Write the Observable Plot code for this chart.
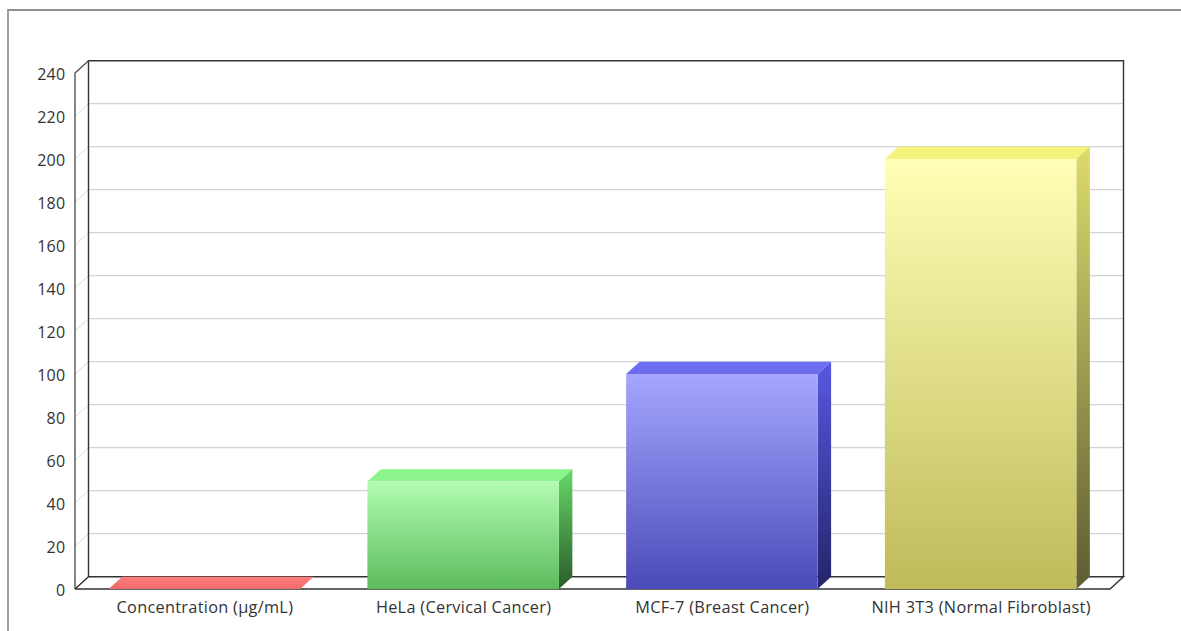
<!DOCTYPE html>
<html><head><meta charset="utf-8">
<script src="https://cdn.jsdelivr.net/npm/d3@7"></script>
<script src="https://cdn.jsdelivr.net/npm/@observablehq/plot@0.6"></script>
<style>
html,body{margin:0;padding:0;background:#fff;overflow:hidden}
#box{position:absolute;left:7px;top:9px;right:-4px;bottom:-4px;border-top:2px solid #8f8f8f;border-left:2px solid #a0a0a0}
#chart{position:absolute;left:0;top:0}
svg{overflow:visible}
</style></head><body>
<div id="box"></div><div id="chart"></div>
<script>
const categories = ["Concentration (µg/mL)", "HeLa (Cervical Cancer)", "MCF-7 (Breast Cancer)", "NIH 3T3 (Normal Fibroblast)"];
const values = [0, 50, 100, 200];
const yTicks = d3.range(0, 241, 20);
const frontTop = ["#ff9c9c", "#b2fcb2", "#a6a6ff", "#ffffb6"];
const frontBottom = ["#ff7070", "#5cbc5c", "#4a4ab8", "#bfbb5a"];
const sideTop = ["#e06060", "#66d866", "#5858e2", "#dcdc6c"];
const sideBottom = ["#803030", "#2c5c2c", "#24246a", "#5e5c32"];
const topBack = ["#ff7e7e", "#88f688", "#7070f4", "#f6f478"];
const topFront = ["#f06a6a", "#90f490", "#6a6aea", "#f4f280"];
const depthX = 13.5, depthY = 12.3;
const rows = categories.map((c, i) => ({c, v: values[i], i}));

function grads(defs, id, colors0, colors1) {
  colors0.forEach((c, i) => {
    const g = defs.append("linearGradient").attr("id", id + i).attr("x1", 0).attr("x2", 0).attr("y1", 0).attr("y2", 1);
    g.append("stop").attr("offset", 0).attr("stop-color", c);
    g.append("stop").attr("offset", 1).attr("stop-color", colors1[i]);
  });
}
const poly = (g, pts) => g.append("polygon").attr("points", pts.map(p => p.join(",")).join(" "));

const walls = (index, {x, y}, values, dims) => {
  const g = d3.create("svg:g");
  const L = dims.marginLeft, R = dims.width - dims.marginRight;
  const y0 = y(0), yT = y(240);
  for (const t of yTicks.slice(1)) {
    const v = y(t);
    g.append("line").attr("x1", L).attr("y1", v).attr("x2", L + depthX).attr("y2", v - depthY).attr("stroke", "#dcdcdc");
    if (t < 240) g.append("line").attr("x1", L + depthX).attr("y1", v - depthY).attr("x2", R + depthX).attr("y2", v - depthY).attr("stroke", "#d4d4d4").attr("stroke-width", 1.2);
  }
  const dark = (pts, c = "#333", w = 1.2) => g.append("polyline").attr("points", pts.map(p => p.join(",")).join(" ")).attr("fill", "none").attr("stroke", c).attr("stroke-width", w);
  dark([[L + depthX, y0 - depthY], [L + depthX, yT - depthY], [R + depthX, yT - depthY], [R + depthX, y0 - depthY]], "#333", 1.4);
  dark([[L, y0], [L, yT], [L + depthX, yT - depthY]], "#555", 1.4);
  dark([[L, y0], [L + depthX, y0 - depthY], [R + depthX, y0 - depthY], [R, y0], [L, y0]], "#333", 1.4);
  return g.node();
};

const faces = (index, {x, y}) => {
  const g = d3.create("svg:g");
  const defs = g.append("defs");
  grads(defs, "front", frontTop, frontBottom);
  grads(defs, "side", sideTop, sideBottom);
  grads(defs, "top", topBack, topFront);
  const w = x.bandwidth();
  for (const r of rows) {
    const a = x(r.c), b = a + w, t = y(r.v), z = y(0);
    poly(g, [[a, t], [b, t], [b + depthX, t - depthY], [a + depthX, t - depthY]]).attr("fill", `url(#top${r.i})`);
    if (r.v > 0) poly(g, [[b, t], [b + depthX, t - depthY], [b + depthX, z - depthY], [b, z]]).attr("fill", `url(#side${r.i})`);
  }
  return g.node();
};

const chart = Plot.plot({
  width: 1181, height: 631,
  marginLeft: 75, marginRight: 71, marginTop: 73, marginBottom: 42,
  style: {background: "transparent", fontFamily: "'Open Sans', sans-serif", fontSize: "16px", color: "#333", letterSpacing: "0.3px"},
  x: {domain: categories, paddingInner: 0.26, paddingOuter: 0.13, round: false, label: null},
  y: {domain: [0, 240], label: null},
  marks: [
    walls,
    faces,
    Plot.barY(rows, {x: "c", y: "v", fill: {value: r => `url(#front${r.i})`, scale: null}}),
    Plot.axisY({ticks: yTicks, tickSize: 0, tickPadding: 10, dy: 1, label: null, fontSize: 16, fill: "#333"}),
    Plot.axisX({tickSize: 0, tickPadding: 11, dy: 0.5, label: null, fontSize: 16.3, fill: "#333"})
  ]
});
document.getElementById("chart").append(chart);
</script></body></html>
